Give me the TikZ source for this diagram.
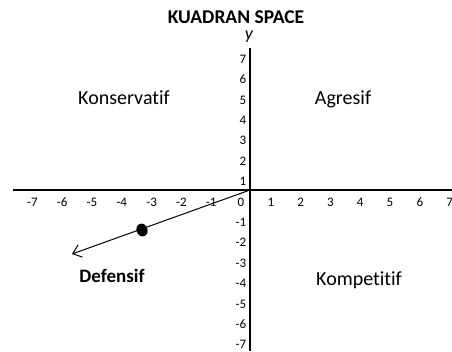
\documentclass[tikz,border=0pt]{standalone}
\usepackage{fontspec}
\setmainfont{Carlito}[Ligatures=NoCommon]
\usetikzlibrary{arrows.meta,shapes.geometric}

\begin{document}
\begin{tikzpicture}[x=1pt, y=-1pt,
    ticklbl/.style={font=\fontsize{13}{14}\selectfont, inner sep=0pt},
    quadlbl/.style={font=\fontsize{20}{24}\selectfont, inner sep=0pt, anchor=base},
    axisline/.style={line width=1.2pt},
    arr/.style={-{Straight Barb[length=8pt, width=13pt, line width=1pt]}, line width=1pt}
]
\useasboundingbox (0,0) rectangle (452,351);

% title and axis name
\node[font=\bfseries\fontsize{19.5}{22}\selectfont, inner sep=0pt, anchor=base] (title) at (236,23) {KUADRAN SPACE};
\node[font=\itshape\fontsize{18}{20}\selectfont, inner sep=0pt] (ylbl) at (249,37) {y};

% axes
\coordinate (o) at (250,190);
\coordinate (xl) at (13,190);
\coordinate (xr) at (452,190);
\coordinate (yt) at (250,48);
\coordinate (yb) at (250,351);
\draw[axisline] (xl) -- (xr);
\draw[axisline] (yt) -- (yb);

% tick labels
\foreach \k in {-7,...,7}
  \node[ticklbl, anchor=base] (x\k) at ({241+29.8*\k},206) {\k};
\foreach \k in {-7,...,-1,1,2,...,7}
  \node[ticklbl, anchor=base east] (y\k) at (246.5,{206-20.4*\k}) {\k};

% quadrants
\node[quadlbl] (kons) at (124,104) {Konservatif};
\node[quadlbl] (agr) at (343,104) {Agresif};
\node[quadlbl, font=\bfseries\fontsize{19}{22}\selectfont] (def) at (112,282) {Defensif};
\node[quadlbl] (komp) at (359,285) {Kompetitif};

% position vector
\coordinate (tip) at (72,254);
\draw[arr] (o) -- (tip);
\node[ellipse, fill=black, minimum width=11pt, minimum height=13pt, inner sep=0pt, rotate=20] (pos) at (142,230) {};
\end{tikzpicture}
\end{document}
